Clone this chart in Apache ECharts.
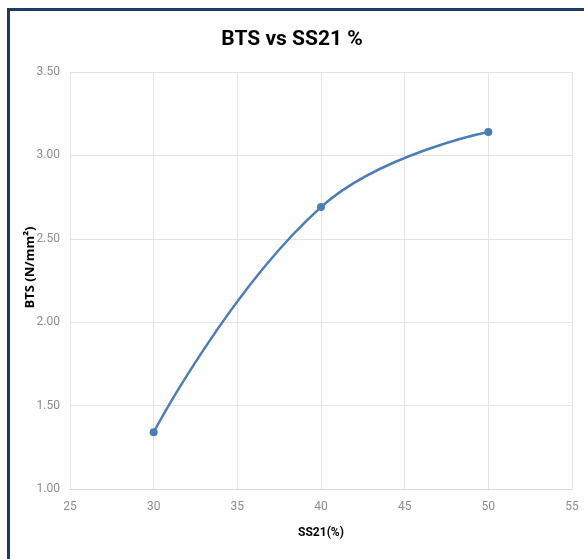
<!DOCTYPE html>
<html lang="en">
<head>
    <meta charset="utf-8">
    <style>
        html, body {
            margin: 0px;
            padding: 0px;
            width: 100%;
            height: 100%;
            background: #fff;
        }

        #frame {
            position: absolute;
            left: 7px;
            top: 8px;
            width: 600px;
            height: 600px;
            border-top: 3px solid #1f3864;
            border-left: 3px solid #1f3864;
        }

        #chart {
            position: absolute;
            left: 0px;
            top: 0px;
            width: 584px;
            height: 559px;
        }
    </style>
    <script src="https://cdn.jsdelivr.net/npm/echarts@6/dist/echarts.min.js"></script>
    <title>BTS vs SS21 %</title>
</head>
<body>
<div id="frame"></div>
<div id="chart"></div>
<script type="text/javascript">
    var ss21 = [30, 40, 50];
    var bts = [1.34, 2.69, 3.14];
    var xTicks = [25, 30, 35, 40, 45, 50, 55];
    var yTicks = [1.00, 1.50, 2.00, 2.50, 3.00, 3.50];

    var myChart = echarts.init(document.getElementById('chart'));

    var points = [];
    for (var i = 0; i < ss21.length; i++) {
        points.push([ss21[i], bts[i]]);
    }

    var tickFont = 'Liberation Sans Narrow, Roboto, sans-serif';

    var option = {
        animation: false,
        title: {
            text: 'BTS vs SS21 %',
            left: 'center',
            top: 24,
            textStyle: {
                fontFamily: 'Roboto, sans-serif',
                fontWeight: 'bold',
                fontSize: 21,
                color: '#000'
            }
        },
        grid: {
            left: 70,
            right: 12,
            top: 72,
            bottom: 70
        },
        xAxis: {
            type: 'value',
            min: xTicks[0],
            max: xTicks[xTicks.length - 1],
            interval: 5,
            name: 'SS21(%)',
            nameLocation: 'middle',
            nameGap: 38,
            nameMoveOverlap: false,
            nameTextStyle: {
                fontFamily: tickFont,
                fontWeight: 'bold',
                fontSize: 12,
                color: '#000'
            },
            axisLine: {lineStyle: {color: '#d9d9d9'}},
            axisTick: {show: false},
            axisLabel: {
                margin: 12,
                fontFamily: tickFont,
                fontSize: 12,
                color: '#8c8c8c'
            },
            splitLine: {lineStyle: {color: '#e4e4e4'}}
        },
        yAxis: {
            type: 'value',
            min: yTicks[0],
            max: yTicks[yTicks.length - 1],
            interval: 0.5,
            name: 'BTS (N/mm²)',
            nameLocation: 'middle',
            nameGap: 33,
            nameMoveOverlap: false,
            nameTextStyle: {
                fontFamily: 'Open Sans, sans-serif',
                fontWeight: 'bold',
                fontSize: 13,
                color: '#000',
                padding: [0, 0, 0, 26]
            },
            axisLine: {show: false},
            axisTick: {show: false},
            axisLabel: {
                margin: 10,
                fontFamily: tickFont,
                fontSize: 12,
                color: '#8c8c8c',
                formatter: function (v) { return v.toFixed(2); }
            },
            splitLine: {lineStyle: {color: '#e4e4e4'}}
        },
        series: [{
            type: 'line',
            data: points,
            smooth: 0.45,
            symbol: 'circle',
            symbolSize: 8,
            itemStyle: {color: '#4a7ebb'},
            lineStyle: {color: '#4a7ebb', width: 2.5}
        }]
    };

    myChart.setOption(option);
</script>
</body>
</html>
